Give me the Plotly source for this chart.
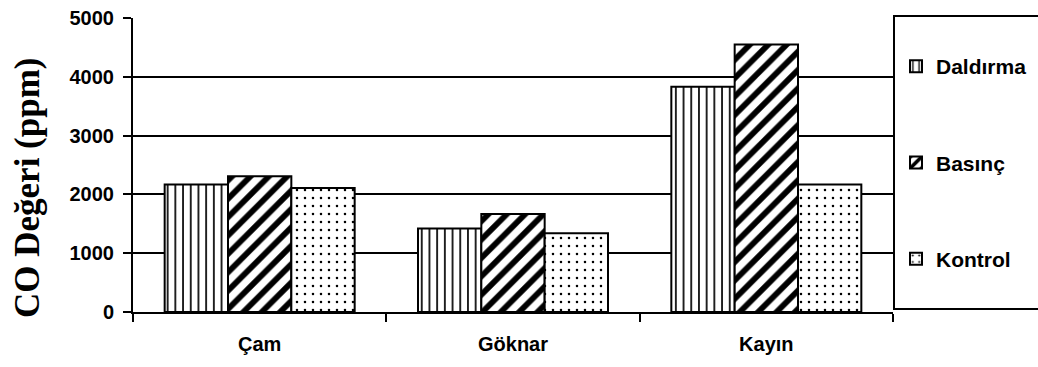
import plotly.graph_objects as go

# Wood species on the category axis
species = ["Çam", "Göknar", "Kayın"]

# CO readings (ppm) per impregnation method
daldirma = [2170, 1420, 3830]
basinc = [2310, 1665, 4550]
kontrol = [2110, 1340, 2170]

y_ticks = [0, 1000, 2000, 3000, 4000, 5000]

W, H = 1038, 367
L, R, T, B = 133, 145, 18, 55
plot_w = W - L - R
plot_h = H - T - B


def px_x(x):
    return (x - L) / plot_w


def px_y(y):
    return (H - B - y) / plot_h


series = [
    ("Daldırma", daldirma, dict(shape="|", size=7.7, solidity=0.22)),
    ("Basınç", basinc, dict(shape="/", size=13, solidity=0.45)),
    ("Kontrol", kontrol, dict(shape=".", size=8, solidity=0.08)),
]

fig = go.Figure()
for name, vals, pat in series:
    fig.add_trace(go.Bar(
        x=species, y=vals, name=name, legendgroup=name,
        marker=dict(
            color="white",
            line=dict(color="black", width=2),
            pattern=dict(fgcolor="black", bgcolor="white", fgopacity=1,
                         fillmode="overlay", **pat),
        ),
    ))

bold_sans = dict(family="Liberation Sans, Arial, sans-serif", size=20, color="black", weight="bold")

fig.update_layout(
    width=W, height=H,
    margin=dict(l=L, r=R, t=T, b=B, autoexpand=False),
    paper_bgcolor="white", plot_bgcolor="white",
    barmode="group", bargap=0.25, bargroupgap=0,
    font=bold_sans,
    showlegend=True,
    legend=dict(
        x=px_x(896), xanchor="left",
        y=px_y(46), yanchor="top",
        font=dict(family="Liberation Sans, Arial, sans-serif", size=21, color="black", weight="bold"),
        tracegroupgap=66,
        bgcolor="rgba(0,0,0,0)", borderwidth=0,
    ),
    xaxis=dict(
        showline=True, linecolor="black", linewidth=2,
        ticks="outside", tickson="boundaries", ticklen=8, tickwidth=2, tickcolor="black",
        ticklabelstandoff=13,
        tickfont=bold_sans, showgrid=False, zeroline=False,
    ),
    yaxis=dict(
        range=[0, 5000], tickvals=y_ticks,
        showline=True, linecolor="black", linewidth=2,
        ticks="outside", ticklen=8, tickwidth=2, tickcolor="black",
        ticklabelstandoff=5,
        showgrid=True, gridcolor="black", gridwidth=2,
        zeroline=False, tickfont=bold_sans,
    ),
    shapes=[
        # legend frame to the right of the plot
        dict(type="rect", xref="paper", yref="paper",
             x0=px_x(894), x1=px_x(1045), y0=px_y(309), y1=px_y(16),
             line=dict(color="black", width=2), fillcolor="rgba(0,0,0,0)"),
    ],
    annotations=[
        dict(text="CO Değeri (ppm)", textangle=-90, showarrow=False,
             xref="paper", yref="paper", x=px_x(27), y=px_y(188),
             xanchor="center", yanchor="middle",
             font=dict(family="Liberation Serif, Times New Roman, serif", size=35,
                       color="black", weight="bold")),
    ],
)

fig.write_html("out.html")
